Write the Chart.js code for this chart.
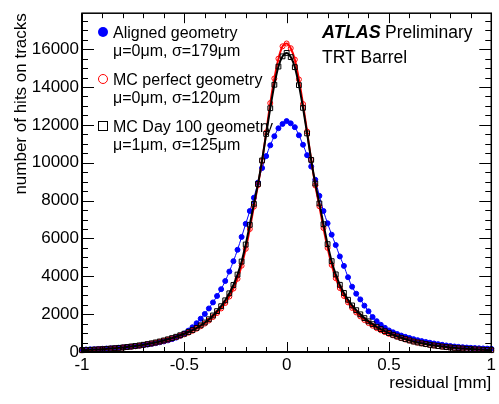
<!DOCTYPE html>
<html>
<head>
<meta charset="utf-8">
<script src="https://cdn.jsdelivr.net/npm/chart.js@4.4.0/dist/chart.umd.min.js"></script>
<style>
  body { margin: 0; background: #fff; }
  #wrap { width: 499px; height: 404px; }
</style>
</head>
<body>
<div id="wrap"><canvas id="c" width="499" height="404"></canvas></div>
<script>
// bin centres of the residual histogram [mm]
const residual = [
  -1, -0.98, -0.96, -0.94, -0.92, -0.9, -0.88, -0.86, -0.84, -0.82,
  -0.8, -0.78, -0.76, -0.74, -0.72, -0.7, -0.68, -0.66, -0.64, -0.62,
  -0.6, -0.58, -0.56, -0.54, -0.52, -0.5, -0.48, -0.46, -0.44, -0.42,
  -0.4, -0.38, -0.36, -0.34, -0.32, -0.3, -0.28, -0.26, -0.24, -0.22,
  -0.2, -0.18, -0.16, -0.14, -0.12, -0.1, -0.08, -0.06, -0.04, -0.02,
  0,
  0.02, 0.04, 0.06, 0.08, 0.1, 0.12, 0.14, 0.16, 0.18, 0.2,
  0.22, 0.24, 0.26, 0.28, 0.3, 0.32, 0.34, 0.36, 0.38, 0.4,
  0.42, 0.44, 0.46, 0.48, 0.5, 0.52, 0.54, 0.56, 0.58, 0.6,
  0.62, 0.64, 0.66, 0.68, 0.7, 0.72, 0.74, 0.76, 0.78, 0.8,
  0.82, 0.84, 0.86, 0.88, 0.9, 0.92, 0.94, 0.96, 0.98, 1
];

// number of hits on tracks per bin
const aligned = [
  125, 133, 141, 150, 160, 171, 183, 196, 210, 226,
  243, 262, 283, 306, 332, 360, 392, 428, 468, 512,
  560, 615, 680, 760, 860, 980, 1130, 1310, 1520, 1760,
  2010, 2300, 2620, 2960, 3320, 3750, 4250, 4800, 5400, 6080,
  6770, 7450, 8150, 8950, 9720, 10350, 10920, 11400, 11820, 12050,
  12200,
  12080, 11880, 11450, 10950, 10400, 9800, 9100, 8250, 7450, 6800,
  6200, 5650, 5050, 4550, 3950, 3450, 3080, 2780, 2450, 2150,
  1850, 1630, 1440, 1280, 1140, 1040, 950, 870, 800, 740,
  680, 625, 575, 530, 490, 450, 415, 380, 345, 315,
  290, 270, 252, 235, 220, 208, 196, 186, 177, 170
];

const mcPerfect = [
  90, 100, 110, 122, 133, 146, 160, 176, 192, 212,
  232, 255, 280, 305, 335, 370, 405, 445, 490, 540,
  595, 650, 715, 785, 860, 930, 1020, 1120, 1230, 1360,
  1500, 1660, 1850, 2060, 2300, 2590, 2930, 3350, 3870, 4560,
  5450, 6500, 7680, 8820, 10100, 11600, 13150, 14450, 15500, 16150,
  16300,
  16050, 15450, 14400, 13100, 11650, 10150, 8800, 7700, 6550, 5500,
  4600, 3900, 3380, 2960, 2620, 2330, 2090, 1880, 1690, 1530,
  1390, 1260, 1150, 1050, 960, 880, 800, 730, 660, 600,
  545, 495, 450, 410, 375, 340, 310, 280, 255, 235,
  215, 195, 180, 165, 150, 138, 126, 115, 105, 95
];

const mcDay100 = [
  95, 104, 114, 126, 138, 151, 166, 182, 199, 218,
  240, 264, 290, 318, 348, 382, 418, 458, 505, 555,
  610, 670, 735, 805, 885, 965, 1055, 1160, 1275, 1410,
  1560, 1730, 1930, 2160, 2420, 2730, 3100, 3540, 4090, 4780,
  5680, 6720, 7830, 8880, 10120, 11520, 12880, 14120, 15080, 15620,
  15800,
  15580, 15050, 14100, 12900, 11550, 10150, 8900, 7850, 6750, 5700,
  4800, 4100, 3550, 3120, 2760, 2460, 2210, 1990, 1790, 1620,
  1470, 1330, 1210, 1100, 1000, 910, 825, 750, 680, 615,
  555, 505, 460, 420, 382, 348, 316, 288, 262, 240,
  220, 200, 184, 168, 154, 141, 129, 118, 108, 98
];

const yTickValues = [0, 2000, 4000, 6000, 8000, 10000, 12000, 14000, 16000];
const xTickValues = [-1, -0.5, 0, 0.5, 1];

const seriesNames = ['Aligned geometry', 'MC perfect geometry', 'MC Day 100 geometry'];
const fitLabels = ['\u03bc=0\u03bcm, \u03c3=179\u03bcm', '\u03bc=0\u03bcm, \u03c3=120\u03bcm', '\u03bc=1\u03bcm, \u03c3=125\u03bcm'];
const seriesColours = ['#0000ff', '#ff0000', '#000000'];

const FONT = '"Liberation Sans", Arial, Helvetica, sans-serif';

function toPoints(values) {
  return values.map((v, i) => ({ x: residual[i], y: v }));
}

function makeDataSet(label, values, colour, style, filled, order, lineWidth) {
  return {
    label: label,
    data: toPoints(values),
    showLine: true,
    borderColor: colour,
    borderWidth: lineWidth,
    cubicInterpolationMode: 'monotone',
    pointStyle: style,
    pointRadius: style === 'rect' ? 3.4 : 2.5,
    pointBorderWidth: 1,
    pointBorderColor: colour,
    pointBackgroundColor: filled ? colour : 'rgba(0,0,0,0)',
    order: order,
    clip: 4
  };
}

// axes frame with inward ticks, ROOT style
const rootFrame = {
  id: 'rootFrame',
  afterDraw(chart) {
    const { ctx, chartArea: a, scales: { x, y } } = chart;
    ctx.save();
    ctx.strokeStyle = '#000';
    ctx.lineWidth = 1;
    ctx.beginPath();
    for (let k = -10; k <= 10; k++) {
      const px = Math.round(x.getPixelForValue(k / 10)) + 0.5;
      const len = (k % 5 === 0) ? 10 : 5;
      ctx.moveTo(px, a.bottom); ctx.lineTo(px, a.bottom - len);
      ctx.moveTo(px, a.top); ctx.lineTo(px, a.top + len);
    }
    for (let v = 0; v <= 17900; v += 500) {
      const py = Math.round(y.getPixelForValue(v)) + 0.5;
      const len = (v % 2000 === 0) ? 12 : 6;
      ctx.moveTo(a.left, py); ctx.lineTo(a.left + len, py);
      ctx.moveTo(a.right, py); ctx.lineTo(a.right - len, py);
    }
    ctx.stroke();
    ctx.lineWidth = 1.5;
    ctx.strokeRect(a.left, a.top, a.right - a.left, a.bottom - a.top);
    ctx.lineWidth = 2;
    ctx.beginPath();
    ctx.moveTo(a.left, a.top); ctx.lineTo(a.left, a.bottom); ctx.lineTo(a.right, a.bottom);
    ctx.stroke();

    // legend
    ctx.fillStyle = '#000';
    ctx.textAlign = 'left';
    ctx.textBaseline = 'alphabetic';
    ctx.font = '16px ' + FONT;
    const rows = [32, 79, 126];
    for (let i = 0; i < 3; i++) {
      const cy = rows[i];
      ctx.strokeStyle = seriesColours[i];
      ctx.fillStyle = seriesColours[i];
      ctx.lineWidth = 1;
      if (i === 0) {
        ctx.beginPath(); ctx.arc(103, cy, 5, 0, Math.PI * 2); ctx.fill();
      } else if (i === 1) {
        ctx.beginPath(); ctx.arc(103, cy, 4.5, 0, Math.PI * 2); ctx.stroke();
      } else {
        ctx.strokeRect(98.5, cy - 4.5, 9, 9);
      }
      ctx.fillStyle = '#000';
      ctx.fillText(seriesNames[i], 113, cy + 6);
      ctx.fillText(fitLabels[i], 113, cy + 24);
    }

    // experiment label
    ctx.font = 'italic bold 18px ' + FONT;
    ctx.fillText('ATLAS', 322, 38);
    ctx.font = '17.5px ' + FONT;
    ctx.fillText('Preliminary', 385, 38);
    ctx.fillText('TRT Barrel', 322, 63);
    ctx.restore();
  }
};

new Chart(document.getElementById('c'), {
  type: 'scatter',
  data: {
    datasets: [
      makeDataSet(seriesNames[0], aligned, seriesColours[0], 'circle', true, 2, 1),
      makeDataSet(seriesNames[1], mcPerfect, seriesColours[1], 'circle', false, 1, 2),
      makeDataSet(seriesNames[2], mcDay100, seriesColours[2], 'rect', false, 0, 2)
    ]
  },
  options: {
    responsive: false,
    animation: false,
    layout: { padding: { top: 12, right: 5, left: 0, bottom: 0 } },
    plugins: { legend: { display: false }, tooltip: { enabled: false } },
    scales: {
      x: {
        type: 'linear',
        min: -1,
        max: 1,
        grid: { display: false, drawTicks: false },
        border: { display: false },
        ticks: {
          padding: 3,
          maxRotation: 0,
          color: '#000',
          font: { family: FONT, size: 17 },
          callback: v => String(v)
        },
        afterBuildTicks(scale) { scale.ticks = xTickValues.map(v => ({ value: v })); },
        title: {
          display: true,
          text: 'residual [mm]',
          align: 'end',
          color: '#000',
          font: { family: FONT, size: 17 },
          padding: { top: 0, bottom: 10 }
        },
        afterFit(scale) { scale.height = 52; }
      },
      y: {
        min: 0,
        max: 17900,
        grid: { display: false, drawTicks: false },
        border: { display: false },
        ticks: {
          padding: 3,
          color: '#000',
          font: { family: FONT, size: 17 },
          callback: v => String(v)
        },
        afterBuildTicks(scale) { scale.ticks = yTickValues.map(v => ({ value: v })); },
        title: {
          display: true,
          text: 'number of hits on tracks',
          align: 'end',
          color: '#000',
          font: { family: FONT, size: 17 },
          padding: { top: 11, bottom: 0 }
        },
        afterFit(scale) { scale.width = 82; }
      }
    }
  },
  plugins: [rootFrame]
});
</script>
</body>
</html>
